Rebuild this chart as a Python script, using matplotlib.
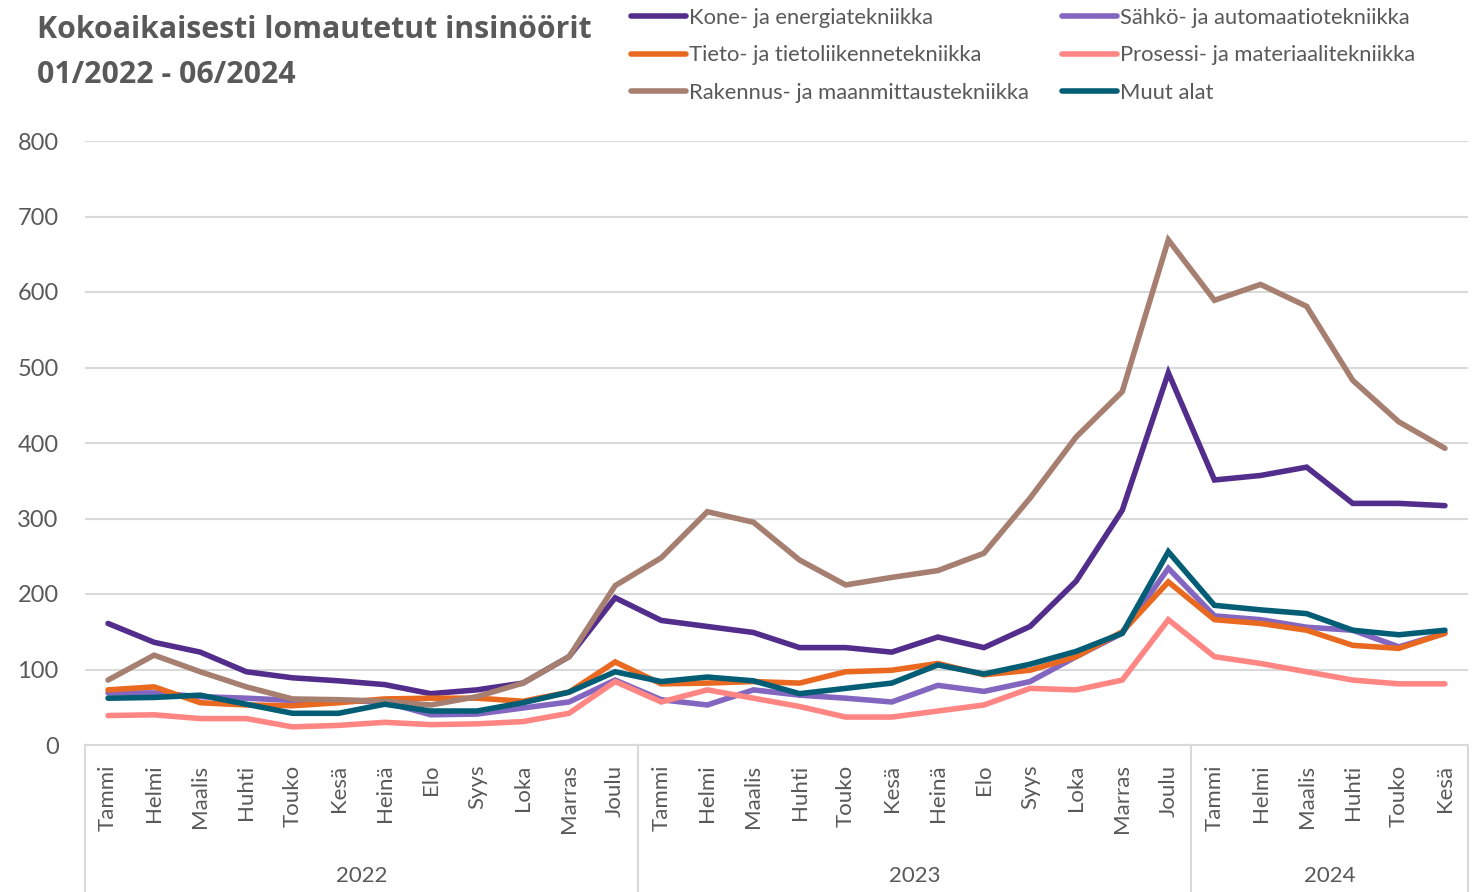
import matplotlib.pyplot as plt
import matplotlib.transforms as mtransforms

plt.rcParams['font.family'] = ['Lato', 'DejaVu Sans']

kuukaudet = ["Tammi", "Helmi", "Maalis", "Huhti", "Touko", "Kesä",
             "Heinä", "Elo", "Syys", "Loka", "Marras", "Joulu"]
kuukausi_labels = kuukaudet + kuukaudet + kuukaudet[:6]
vuodet = ["2022", "2023", "2024"]
vuosi_pituus = [12, 12, 6]

kone = [161, 136, 123, 97, 89, 85, 80, 68, 73, 82, 117, 195,
        165, 157, 149, 129, 129, 123, 143, 129, 157, 217, 311, 493,
        351, 357, 368, 320, 320, 317]
sahko = [69, 69, 64, 62, 59, 59, 57, 40, 41, 49, 57, 86,
         60, 53, 73, 66, 62, 57, 79, 71, 84, 117, 148, 234,
         171, 166, 156, 152, 130, 148]
tieto = [73, 77, 56, 53, 52, 56, 61, 62, 62, 58, 70, 110,
         81, 82, 84, 82, 97, 99, 108, 93, 99, 117, 150, 216,
         166, 161, 152, 132, 128, 148]
prosessi = [39, 40, 35, 35, 24, 26, 30, 27, 28, 31, 42, 84,
            57, 73, 62, 51, 37, 37, 45, 53, 75, 73, 86, 166,
            117, 108, 97, 86, 81, 81]
rakennus = [86, 119, 97, 77, 61, 60, 58, 53, 64, 82, 117, 211,
            248, 309, 295, 245, 212, 222, 231, 254, 327, 408, 468, 669,
            589, 610, 581, 483, 428, 393]
muut = [62, 63, 66, 54, 42, 42, 54, 45, 45, 56, 70, 97,
        84, 90, 85, 68, 75, 82, 106, 94, 107, 124, 148, 256,
        185, 179, 174, 152, 146, 152]

sarjat = [
    ("Kone- ja energiatekniikka", kone, "#532D8C"),
    ("Sähkö- ja automaatiotekniikka", sahko, "#8366C0"),
    ("Tieto- ja tietoliikennetekniikka", tieto, "#E8691F"),
    ("Prosessi- ja materiaalitekniikka", prosessi, "#FF8683"),
    ("Rakennus- ja maanmittaustekniikka", rakennus, "#A77F70"),
    ("Muut alat", muut, "#035E75"),
]

harmaa = "#595959"
viiva = "#D9D9D9"

fig = plt.figure(figsize=(14.78, 8.92), dpi=100)
ax = fig.add_axes([85 / 1478, (892 - 745) / 892, (1468 - 85) / 1478, 604 / 892])

x = list(range(len(kuukausi_labels)))
kahvat = {}
for nimi, arvot, vari in sarjat:
    l, = ax.plot(x, arvot, color=vari, linewidth=4.0, solid_joinstyle='miter',
                 solid_capstyle='round', label=nimi)
    kahvat[nimi] = l

ax.set_xlim(-0.5, len(x) - 0.5)
ax.set_ylim(0, 800)
ax.set_yticks(range(0, 801, 100))
ax.grid(axis='y', color=viiva, linewidth=1.5)
ax.set_axisbelow(True)
for s in ['top', 'left', 'right']:
    ax.spines[s].set_visible(False)
ax.spines['bottom'].set_color(viiva)
ax.spines['bottom'].set_linewidth(1.5)
ax.tick_params(axis='y', length=0, labelsize=17, labelcolor=harmaa, pad=19)
ax.set_xticks(x)
ax.set_xticklabels(kuukausi_labels, rotation=90, fontsize=16, color=harmaa, va='top')
ax.tick_params(axis='x', length=0, pad=14)

# vuositason erottimet ja otsikot
trans = mtransforms.blended_transform_factory(ax.transData, ax.transAxes)
rajat = [-0.5]
for n in vuosi_pituus:
    rajat.append(rajat[-1] + n)
for r in rajat:
    ax.plot([r, r], [0, -0.245], transform=trans, color=viiva, linewidth=1.5, clip_on=False)
for i, v in enumerate(vuodet):
    ax.text((rajat[i] + rajat[i + 1]) / 2, -0.217, v, transform=trans, ha='center',
            va='center', fontsize=16, color=harmaa)

fig.text(37 / 1478, 1 - 30 / 892, "Kokoaikaisesti lomautetut insinöörit",
         fontsize=21.8, fontweight='bold', color=harmaa, va='center', ha='left',
         family=['Open Sans', 'DejaVu Sans'])
fig.text(37 / 1478, 1 - 75 / 892, "01/2022 - 06/2024",
         fontsize=21.8, fontweight='bold', color=harmaa, va='center', ha='left',
         family=['Open Sans', 'DejaVu Sans'])

jarjestys = ["Kone- ja energiatekniikka", "Tieto- ja tietoliikennetekniikka",
             "Rakennus- ja maanmittaustekniikka", "Sähkö- ja automaatiotekniikka",
             "Prosessi- ja materiaalitekniikka", "Muut alat"]
fig.legend([kahvat[n] for n in jarjestys], jarjestys, ncol=2, loc='upper left',
           bbox_to_anchor=(611 / 1478, 1 + 12 / 892), frameon=False, fontsize=15.8,
           handlelength=2.5, handletextpad=0.15, columnspacing=1.5, labelspacing=0.8,
           labelcolor=harmaa)

fig.savefig("out.png", dpi=100)
